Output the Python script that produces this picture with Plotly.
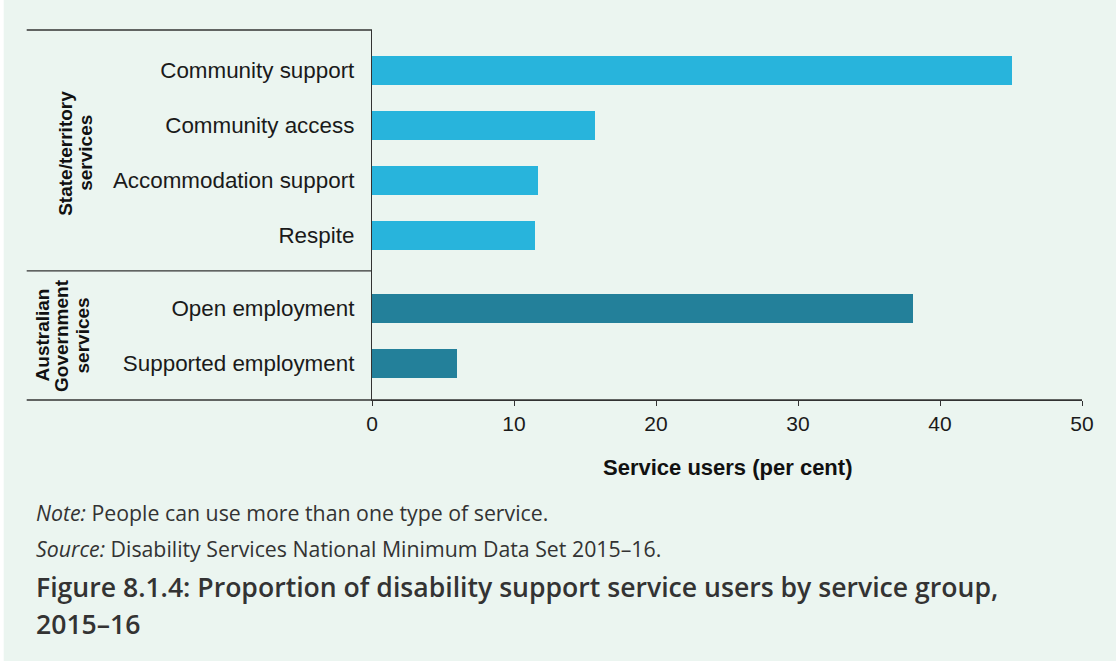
import plotly.graph_objects as go

# ---------------- data ----------------
state_categories = ["Community support", "Community access", "Accommodation support", "Respite"]
state_values = [45.1, 15.7, 11.7, 11.5]
aus_categories = ["Open employment", "Supported employment"]
aus_values = [38.1, 6.0]
state_group_lines = ["State/territory", "services"]
aus_group_lines = ["Australian", "Government", "services"]
x_ticks = [0, 10, 20, 30, 40, 50]
x_title = "Service users (per cent)"
note_text = "<i>Note:</i> People can use more than one type of service."
source_text = "<i>Source:</i> Disability Services National Minimum Data Set 2015–16."
title_lines = ["Figure 8.1.4: Proportion of disability support service users by service group,", "2015–16"]

# ---------------- layout geometry (pixels) ----------------
W, H = 1116, 661
L, R = 372.3, 1082.3
T, B = 30.0, 399.7
DIV = 270.7
BG = "#EBF5F0"
LINE = "#333333"
LIGHT = "#28B4DC"
DARK = "#23809A"
CHART_FONT = "Liberation Sans, Arial, sans-serif"
TEXT_FONT = "Open Sans, sans-serif"


def px(xp):
    return (xp - L) / (R - L)


def py(yp):
    return (B - yp) / (B - T)


split = py(DIV)

fig = go.Figure()
fig.add_trace(go.Bar(
    x=state_values, y=state_categories, orientation="h",
    marker=dict(color=LIGHT, line=dict(width=0)), width=0.522,
    xaxis="x", yaxis="y", hoverinfo="x+y", showlegend=False,
))
fig.add_trace(go.Bar(
    x=aus_values, y=aus_categories, orientation="h",
    marker=dict(color=DARK, line=dict(width=0)), width=0.522,
    xaxis="x", yaxis="y2", hoverinfo="x+y", showlegend=False,
))

yaxis_common = dict(
    type="category", showline=True, linecolor=LINE, linewidth=1.3,
    ticks="", showgrid=False, zeroline=False, anchor="x",
    tickfont=dict(family=CHART_FONT, size=22.4, color="#1a1a1a"),
    ticklabelstandoff=12,
)

fig.update_layout(
    width=W, height=H,
    margin=dict(l=L, r=W - R, t=T, b=H - B, pad=0),
    paper_bgcolor=BG, plot_bgcolor=BG,
    bargap=0,
    xaxis=dict(
        range=[0, 50], tickvals=x_ticks, ticktext=[str(v) for v in x_ticks],
        showline=True, linecolor=LINE, linewidth=1.3,
        ticks="outside", ticklen=5, tickwidth=1.3, tickcolor=LINE,
        showgrid=False, zeroline=False, anchor="y2",
        tickfont=dict(family=CHART_FONT, size=21, color="#1a1a1a"),
        ticklabelstandoff=0,
    ),
    yaxis=dict(domain=[split, 1], range=[3.644, -0.733], **yaxis_common),
    yaxis2=dict(domain=[0, split], range=[1.662, -0.684], **yaxis_common),
)

shapes = []
# left-hand horizontal rules
for yp, x1 in [(T, 0.0), (DIV, 0.0), (B, 1.0)]:
    shapes.append(dict(type="line", xref="paper", yref="paper",
                       x0=px(27), x1=x1, y0=py(yp), y1=py(yp),
                       line=dict(color=LINE, width=1.3)))
# white strip on the far left edge
shapes.append(dict(type="rect", xref="paper", yref="paper",
                   x0=px(0), x1=px(4), y0=py(H), y1=py(0),
                   fillcolor="white", line=dict(width=0), layer="below"))
fig.update_layout(shapes=shapes)

ann = []
# group labels (rotated)
for txt, xp in zip(state_group_lines, [65, 85]):
    ann.append(dict(text=f"<b>{txt}</b>", x=px(xp), y=py(153), xref="paper", yref="paper",
                    textangle=-90, showarrow=False, xanchor="center", yanchor="middle",
                    font=dict(family=CHART_FONT, size=19, color="#111111")))
for txt, xp in zip(aus_group_lines, [42.5, 62, 82.5]):
    ann.append(dict(text=f"<b>{txt}</b>", x=px(xp), y=py(335), xref="paper", yref="paper",
                    textangle=-90, showarrow=False, xanchor="center", yanchor="middle",
                    font=dict(family=CHART_FONT, size=19, color="#111111")))
# x axis title
ann.append(dict(text=f"<b>{x_title}</b>", x=px((L + R) / 2), y=py(467), xref="paper", yref="paper",
                showarrow=False, xanchor="center", yanchor="middle",
                font=dict(family=CHART_FONT, size=22, color="#111111")))
# note / source / title
for txt, yp, size, weight in [(note_text, 512.4, 21.3, 400), (source_text, 548, 21.3, 400),
                              (title_lines[0], 586.7, 26.6, 600), (title_lines[1], 623.7, 26.6, 600)]:
    ann.append(dict(text=txt, x=px(34), y=py(yp), xref="paper", yref="paper",
                    showarrow=False, xanchor="left", yanchor="middle",
                    font=dict(family=TEXT_FONT, size=size, color="#333333", weight=weight)))
fig.update_layout(annotations=ann)

fig.write_html("out.html")
